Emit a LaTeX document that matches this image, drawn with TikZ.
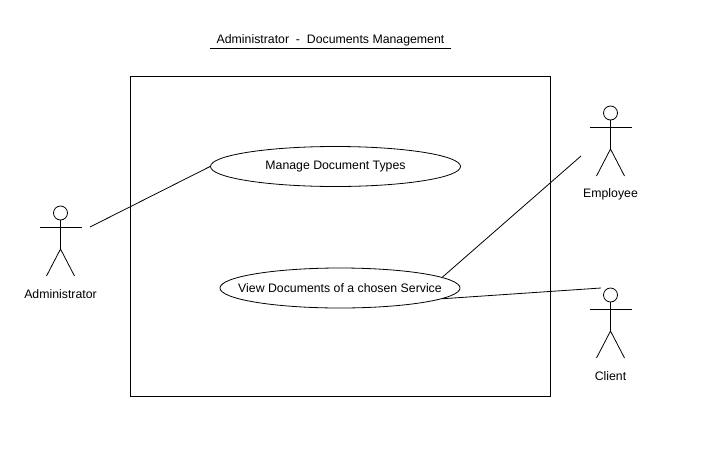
\documentclass[tikz,border=0pt]{standalone}
\usepackage{fontspec}
\setmainfont{Liberation Sans}
\usetikzlibrary{shapes.geometric}
\tikzset{
    usecase/.style = {draw, ellipse, inner xsep = -20pt, inner ysep = 0pt, minimum width = 250pt, minimum height = 40pt},
    actorhead/.style = {draw, circle, inner sep = 0pt, minimum size = 14pt},
    actorname/.style = {inner sep = 0pt, anchor = center},
}
\begin{document}
\begin{tikzpicture}[x = 1pt, y = -1pt, line width = 0.8pt, font = \fontsize{12.3pt}{14pt}\selectfont]
\useasboundingbox (0,0) rectangle (715,472);

\node[inner sep = 0pt, minimum width = 240pt, minimum height = 16pt] (title) at (330.5,40) {Administrator\ \ -\ \ Documents Management};
\draw (title.south west) -- (title.south east);

\node[draw, inner sep = 0pt, minimum width = 420pt, minimum height = 320pt] (system) at (340,236) {};

\node[usecase] (manage) at (335.5,166.5) {Manage Document Types};
\node[usecase, minimum width = 240pt] (view) at (340,288) {View Documents of a chosen Service};

% the three actors
\foreach \id/\px/\py/\who in {admin/60.5/213/Administrator, employee/610.5/113/Employee, client/610.5/295/Client}{
    \node[actorhead] (\id head) at (\px,\py) {};
    \coordinate (\id neck) at (\px,\py+14);
    \coordinate (\id left) at (\px-21,\py+14);
    \coordinate (\id right) at (\px+21,\py+14);
    \coordinate (\id hip) at (\px,\py+36);
    \coordinate (\id footl) at (\px-14,\py+63);
    \coordinate (\id footr) at (\px+14,\py+63);
    \node[actorname] (\id name) at (\px,\py+81) {\who};
    \draw (\id left) -- (\id right);
    \draw (\id head) -- (\id hip);
    \draw (\id footl) -- (\id hip) -- (\id footr);
}

\coordinate (adminend) at (90,227);
\coordinate (employeeend) at (581,156);
\coordinate (clientend) at (601,288);
\draw (adminend) -- (manage.west);
\draw (view.6) -- (employeeend);
\draw (view.-6) -- (clientend);
\end{tikzpicture}
\end{document}
